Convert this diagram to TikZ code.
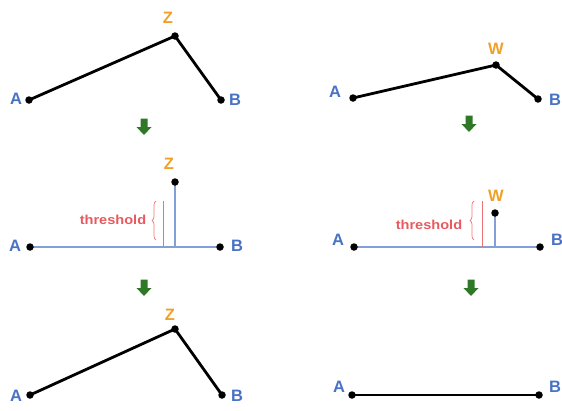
\documentclass[tikz,border=0pt]{standalone}
\usepackage{fontspec}
\setmainfont{Liberation Sans}
\usetikzlibrary{decorations.pathreplacing}
\definecolor{lblblue}{RGB}{72,114,196}
\definecolor{lblorange}{RGB}{240,160,40}
\definecolor{lineblue}{RGB}{130,160,215}
\definecolor{thred}{RGB}{232,90,95}
\definecolor{arrowgreen}{RGB}{46,120,40}
\tikzset{
  dot/.style={circle,fill=black,inner sep=0pt,minimum size=7.5pt},
  seg/.style={line width=2.8pt,line cap=round,line join=round},
  baseline/.style={lineblue,line width=1.6pt},
  lblA/.style={font=\fontsize{16.5}{16.5}\selectfont\bfseries,text=lblblue,inner sep=0pt},
  lblZ/.style={font=\fontsize{16.5}{16.5}\selectfont\bfseries,text=lblorange,inner sep=0pt},
  thtext/.style={font=\fontsize{13}{13}\selectfont\bfseries,text=thred,inner sep=0pt,xscale=1.12},
  thline/.style={thred!85,line width=1pt},
  thbrace/.style={thred!85,line width=0.7pt,decorate,decoration={brace,amplitude=4pt}},
  downarrow/.pic={\fill[arrowgreen] (-3.5,-8.5) -- (3.5,-8.5) -- (3.5,0) -- (7.5,0) -- (0,8) -- (-7.5,0) -- (-3.5,0) -- cycle;}
}
\begin{document}
\begin{tikzpicture}[x=1pt,y=-1pt]
\useasboundingbox (0,0) rectangle (562,410);
% ---------- panel 1 (top left)
\coordinate (A1) at (29,100);
\coordinate (Z1) at (175,36);
\coordinate (B1) at (221,100);
\draw[seg] (A1) -- (Z1) -- (B1);
\node[dot] (a1) at (A1) {};
\node[dot] (z1) at (Z1) {};
\node[dot] (b1) at (B1) {};
\node[lblA] (la1) at (16,99) {A};
\node[lblZ] (lz1) at (168,18) {Z};
\node[lblA] (lb1) at (235,100) {B};
\pic at (144,127) {downarrow};
% ---------- panel 2 (top right)
\coordinate (A2) at (353,98);
\coordinate (W2) at (496,65);
\coordinate (B2) at (538,99);
\draw[seg] (A2) -- (W2) -- (B2);
\node[dot] (a2) at (A2) {};
\node[dot] (w2) at (W2) {};
\node[dot] (b2) at (B2) {};
\node[lblA] (la2) at (335,92) {A};
\node[lblZ] (lw2) at (496,49) {W};
\node[lblA] (lb2) at (555,100) {B};
\pic at (469,124) {downarrow};
% ---------- panel 3 (middle left)
\coordinate (A3) at (30,247);
\coordinate (B3) at (220,247);
\coordinate (Z3) at (175,182);
\coordinate (F3) at (175,247);
\draw[baseline] (A3) -- (B3);
\draw[baseline] (F3) -- (Z3);
\node[dot] (a3) at (A3) {};
\node[dot] (b3) at (B3) {};
\node[dot] (z3) at (Z3) {};
\node[lblA] (la3) at (15,246) {A};
\node[lblZ] (lz3) at (169,164) {Z};
\node[lblA] (lb3) at (237,246) {B};
\coordinate (T3a) at (163,201);
\coordinate (T3b) at (163,247);
\draw[thline] (T3a) -- (T3b);
\coordinate (R3a) at (156,240);
\coordinate (R3b) at (156,201);
\draw[thbrace] (R3a) -- (R3b);
\node[thtext] (th3) at (113,220) {threshold};
\pic at (144,288) {downarrow};
% ---------- panel 4 (middle right)
\coordinate (A4) at (354,247);
\coordinate (B4) at (540,247);
\coordinate (W4) at (495,213);
\coordinate (F4) at (495,247);
\draw[baseline] (A4) -- (B4);
\draw[baseline] (F4) -- (W4);
\node[dot] (a4) at (A4) {};
\node[dot] (b4) at (B4) {};
\node[dot] (w4) at (W4) {};
\node[lblA] (la4) at (338,240) {A};
\node[lblZ] (lw4) at (496,196) {W};
\node[lblA] (lb4) at (557,240) {B};
\coordinate (T4a) at (482,201);
\coordinate (T4b) at (482,247);
\draw[thline] (T4a) -- (T4b);
\coordinate (R4a) at (474,240);
\coordinate (R4b) at (474,201);
\draw[thbrace] (R4a) -- (R4b);
\node[thtext] (th4) at (429,225) {threshold};
\pic at (471,288) {downarrow};
% ---------- panel 5 (bottom left)
\coordinate (A5) at (30,395);
\coordinate (Z5) at (175,329);
\coordinate (B5) at (222,395);
\draw[seg] (A5) -- (Z5) -- (B5);
\node[dot] (a5) at (A5) {};
\node[dot] (z5) at (Z5) {};
\node[dot] (b5) at (B5) {};
\node[lblA] (la5) at (16,396) {A};
\node[lblZ] (lz5) at (170,315) {Z};
\node[lblA] (lb5) at (237,396) {B};
% ---------- panel 6 (bottom right)
\coordinate (A6) at (352,395);
\coordinate (B6) at (539,395);
\draw[seg] (A6) -- (B6);
\node[dot] (a6) at (A6) {};
\node[dot] (b6) at (B6) {};
\node[lblA] (la6) at (339,387) {A};
\node[lblA] (lb6) at (555,387) {B};
\end{tikzpicture}
\end{document}
